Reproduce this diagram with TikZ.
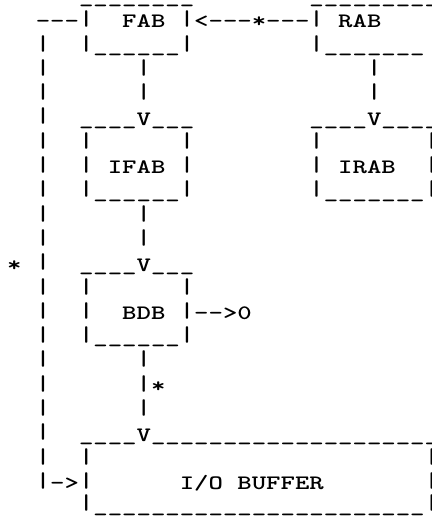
\documentclass[tikz,border=0pt]{standalone}
\usepackage{fontspec}
\usepackage{graphicx}
\newfontfamily\tw{lmmonolt10-bold}[Extension=.otf]
\newcommand\tr[1]{\scalebox{1.338}[1]{#1}}
\newcommand\us{\char"5F\relax}
\newcommand\vb{\raisebox{\dimexpr\depth+0.5pt\relax}{\resizebox*{\width}{16.5pt}{|}}}
\tikzset{rowtext/.style={anchor=base west, inner sep=0pt, outer sep=0pt,
  font=\tw\fontsize{20.5}{24}\selectfont}}
\begin{document}
\begin{tikzpicture}[x=1pt,y=-1pt]
\useasboundingbox (0,0) rectangle (431,516);
\node[rowtext] (r0)  at (79.0,3.7)   {\tr{\us\us\us\us\us\us\us\us~~~~~~~~\us\us\us\us\us\us\us\us\us}};
\node[rowtext] (r1)  at (35.8,28.0)  {\tr{---\vb~~FAB~\vb<---*---\vb~RAB}};
\node[rowtext] (r2)  at (35.8,52.3)  {\tr{\vb~~\vb\us\us\us\us\us\us\vb~~~~~~~~\vb\us\us\us\us\us\us\us}};
\node[rowtext] (r3)  at (35.8,76.6)  {\tr{\vb~~~~~~\vb~~~~~~~~~~~~~~~\vb}};
\node[rowtext] (r4)  at (35.8,100.9) {\tr{\vb~~~~~~\vb~~~~~~~~~~~~~~~\vb}};
\node[rowtext] (r5)  at (35.8,125.2) {\tr{\vb~~\us\us\us\us V\us\us\us~~~~~~~~\us\us\us\us V\us\us\us\us}};
\node[rowtext] (r6)  at (35.8,149.5) {\tr{\vb~~\vb~~~~~~\vb~~~~~~~~\vb~~~~~~~\vb}};
\node[rowtext] (r7)  at (35.8,173.8) {\tr{\vb~~\vb~IFAB~\vb~~~~~~~~\vb~IRAB~~\vb}};
\node[rowtext] (r8)  at (35.8,198.1) {\tr{\vb~~\vb\us\us\us\us\us\us\vb~~~~~~~~\vb\us\us\us\us\us\us\us\vb}};
\node[rowtext] (r9)  at (35.8,222.4) {\tr{\vb~~~~~~\vb}};
\node[rowtext] (r10) at (35.8,246.7) {\tr{\vb~~~~~~\vb}};
\node[rowtext] (r11) at (7.0,271.0)  {\tr{*~\vb~~\us\us\us\us V\us\us\us}};
\node[rowtext] (r12) at (35.8,295.3) {\tr{\vb~~\vb~~~~~~\vb}};
\node[rowtext] (r13) at (35.8,319.6) {\tr{\vb~~\vb~~BDB~\vb-->0}};
\node[rowtext] (r14) at (35.8,343.9) {\tr{\vb~~\vb\us\us\us\us\us\us\vb}};
\node[rowtext] (r15) at (35.8,368.2) {\tr{\vb~~~~~~\vb}};
\node[rowtext] (r16) at (35.8,392.5) {\tr{\vb~~~~~~\vb*}};
\node[rowtext] (r17) at (35.8,416.8) {\tr{\vb~~~~~~\vb}};
\node[rowtext] (r18) at (35.8,441.1) {\tr{\vb~~\us\us\us\us V\us\us\us\us\us\us\us\us\us\us\us\us\us\us\us\us\us\us\us\us}};
\node[rowtext] (r19) at (35.8,465.4) {\tr{\vb~~\vb~~~~~~~~~~~~~~~~~~~~~~~\vb}};
\node[rowtext] (r20) at (35.8,489.7) {\tr{\vb->\vb~~~~~~I/O~BUFFER~~~~~~~\vb}};
\node[rowtext] (r21) at (79.0,512.0) {\tr{\vb\us\us\us\us\us\us\us\us\us\us\us\us\us\us\us\us\us\us\us\us\us\us\us\vb}};
\end{tikzpicture}
\end{document}
